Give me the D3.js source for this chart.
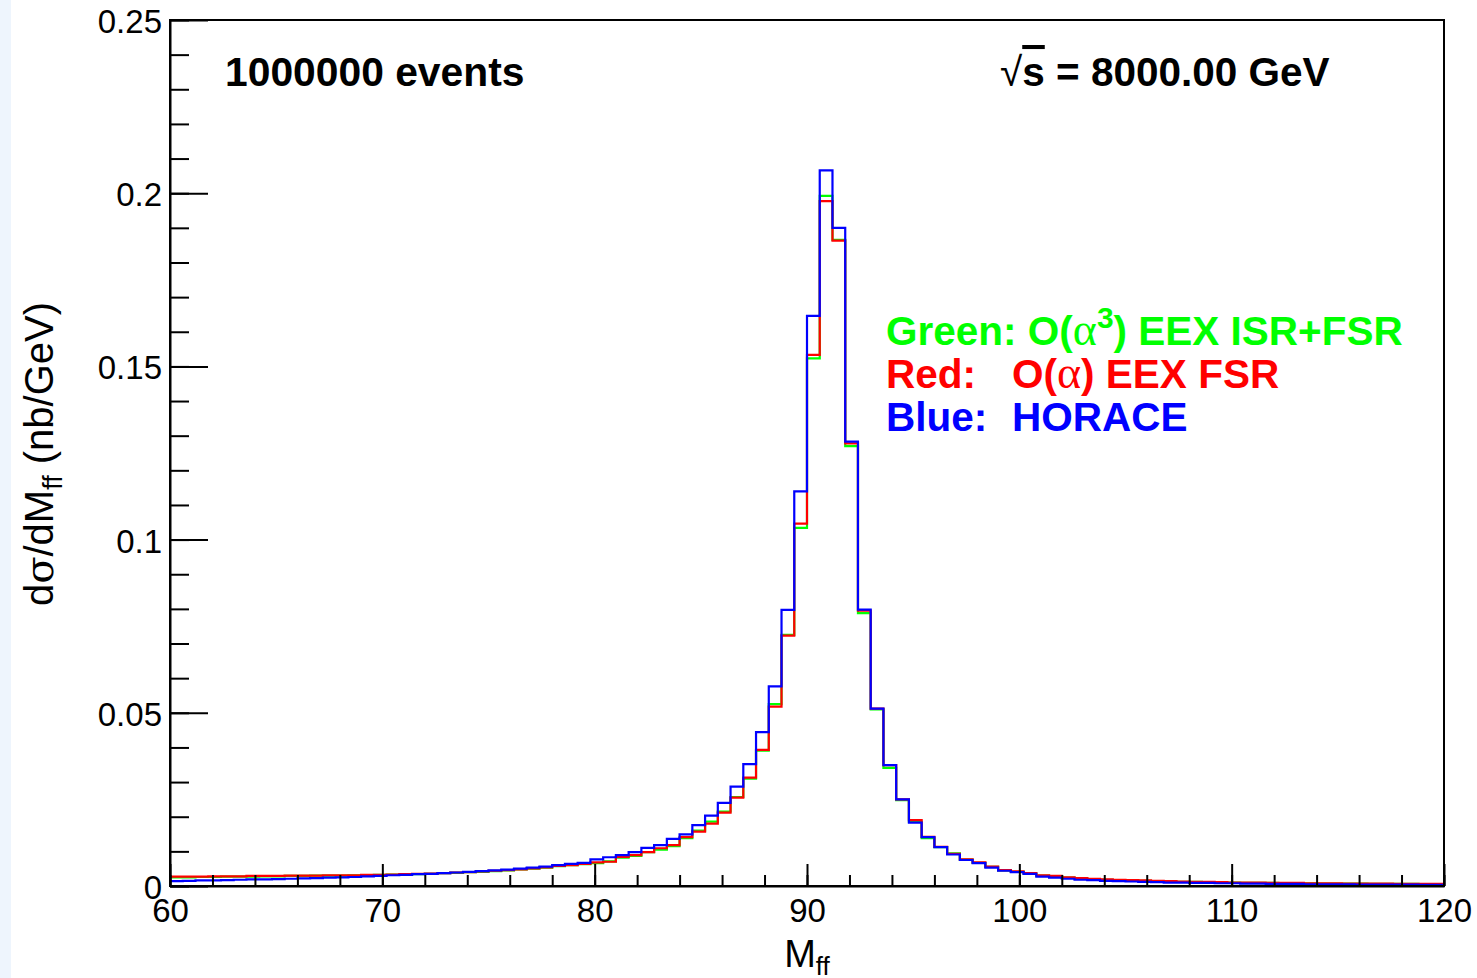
<!DOCTYPE html>
<html>
<head>
<meta charset="utf-8">
<script src="https://cdn.jsdelivr.net/npm/d3@7"></script>
<style>
  html, body { margin: 0; padding: 0; background: #fff; }
  svg { display: block; }
  text { font-family: "Liberation Sans", Arial, Helvetica, sans-serif; }
</style>
</head>
<body>
<svg id="chart" width="1477" height="978"></svg>
<script>
// ---------------- data ----------------
const massMin = 60, massMax = 120, binWidth = 0.6;   // 100 bins of 0.6 GeV
const xTickValues = [60, 70, 80, 90, 100, 110, 120];
const yTickValues = [0, 0.05, 0.1, 0.15, 0.2, 0.25];
const yTickLabels = ["0", "0.05", "0.1", "0.15", "0.2", "0.25"];

const greenValues = [
 .0025,.0025,.0026,.0026,.0027,.0027,.0027,.0028,.0028,.0029,
 .0029,.0030,.0030,.0030,.0031,.0031,.0032,.0033,.0033,.0034,
 .0035,.0037,.0038,.0040,.0041,.0043,.0045,.0048,.0050,.0053,
 .0057,.0060,.0063,.0066,.0071,.0082,.0087,.0098,.0105,.0115,
 .0138,.0160,.0186,.0215,.0257,.0310,.0391,.0525,.0725,.1034,
 .1523,.1992,.1865,.1270,.0788,.0510,.0341,.0248,.0186,.0138,
 .0112,.0094,.0076,.0067,.0055,.0045,.0041,.0036,.0030,.0028,
 .0024,.0022,.0020,.0018,.0017,.0016,.0015,.0014,.0013,.0012,
 .0012,.0011,.0010,.0010,.0009,.0009,.0009,.0008,.0008,.0008,
 .0007,.0007,.0007,.0007,.0006,.0006,.0006,.0006,.0005,.0005];

const redValues = [
 .0027,.0027,.0027,.0028,.0028,.0028,.0029,.0029,.0029,.0030,
 .0030,.0030,.0031,.0031,.0031,.0032,.0032,.0033,.0034,.0035,
 .0036,.0037,.0039,.0040,.0042,.0044,.0046,.0048,.0051,.0054,
 .0058,.0060,.0064,.0068,.0070,.0084,.0089,.0098,.0109,.0118,
 .0141,.0157,.0180,.0212,.0255,.0313,.0393,.0518,.0723,.1046,
 .1533,.1977,.1863,.1278,.0795,.0512,.0349,.0250,.0190,.0142,
 .0113,.0093,.0077,.0068,.0056,.0046,.0042,.0037,.0031,.0029,
 .0025,.0023,.0021,.0019,.0018,.0017,.0016,.0015,.0014,.0013,
 .0012,.0012,.0011,.0010,.0010,.0010,.0009,.0009,.0009,.0008,
 .0008,.0008,.0007,.0007,.0007,.0007,.0006,.0006,.0006,.0006];

const blueValues = [
 .0014,.0015,.0016,.0016,.0017,.0018,.0019,.0019,.0020,.0021,
 .0022,.0023,.0024,.0025,.0026,.0028,.0029,.0031,.0032,.0034,
 .0035,.0037,.0039,.0041,.0043,.0045,.0047,.0050,.0053,.0056,
 .0060,.0064,.0067,.0077,.0083,.0089,.0098,.0110,.0118,.0136,
 .0149,.0176,.0203,.0240,.0287,.0352,.0444,.0576,.0797,.1139,
 .1646,.2066,.1900,.1283,.0798,.0512,.0349,.0250,.0183,.0141,
 .0112,.0091,.0075,.0066,.0053,.0044,.0040,.0035,.0027,.0024,
 .0021,.0018,.0017,.0015,.0014,.0013,.0012,.0011,.0010,.0010,
 .0009,.0009,.0008,.0008,.0007,.0007,.0006,.0006,.0006,.0005,
 .0005,.0005,.0005,.0004,.0004,.0004,.0004,.0004,.0003,.0003];

const seriesColors = ["#00ff00", "#ff0000", "#0000ff"];

// ---------------- drawing ----------------
const svg = d3.select("#chart");
svg.append("rect").attr("x", 0).attr("y", 0).attr("width", 11).attr("height", 978).attr("fill", "#eef5fd");

const pLeft = 170, pRight = 1444, pTop = 20, pBottom = 886;
const x = d3.scaleLinear().domain([massMin, massMax]).range([pLeft, pRight]);
const y = d3.scaleLinear().domain([0, 0.25]).range([pBottom, pTop]);

// histograms (step lines)
const line = d3.line().x(d => x(d[0])).y(d => y(d[1])).curve(d3.curveStepAfter);
[greenValues, redValues, blueValues].forEach((vals, i) => {
  const pts = vals.map((v, k) => [massMin + k * binWidth, v]);
  pts.push([massMin + vals.length * binWidth, vals[vals.length - 1]]);
  svg.append("path")
    .attr("d", line(pts))
    .attr("fill", "none")
    .attr("stroke", seriesColors[i])
    .attr("stroke-width", 2.2);
});

// frame
svg.append("rect").attr("x", pLeft).attr("y", pTop).attr("width", pRight - pLeft).attr("height", pBottom - pTop)
  .attr("fill", "none").attr("stroke", "#000").attr("stroke-width", 2);

// x axis: minor ticks
const xMinor = d3.range(massMin, massMax + 0.001, 2);
svg.append("g").attr("transform", `translate(0,${pBottom})`)
  .call(d3.axisBottom(x).tickValues(xMinor).tickSizeInner(-11).tickSizeOuter(0).tickFormat(""))
  .call(g => g.select(".domain").remove())
  .selectAll("line").attr("stroke", "#000").attr("stroke-width", 2);
// x axis: major ticks + labels
const gx = svg.append("g").attr("transform", `translate(0,${pBottom})`)
  .call(d3.axisBottom(x).tickValues(xTickValues).tickSizeInner(-22).tickSizeOuter(0).tickPadding(13).tickFormat(d3.format("d")));
gx.select(".domain").attr("stroke", "#000").attr("stroke-width", 2);
gx.selectAll("line").attr("stroke", "#000").attr("stroke-width", 2);
gx.selectAll("text").attr("font-size", 33).attr("fill", "#000").style("font-family", "Liberation Sans, Arial, sans-serif");

// y axis: minor ticks
const yMinor = d3.range(0, 0.2501, 0.01);
svg.append("g").attr("transform", `translate(${pLeft},0)`)
  .call(d3.axisLeft(y).tickValues(yMinor).tickSizeInner(-19).tickSizeOuter(0).tickFormat(""))
  .call(g => g.select(".domain").remove())
  .selectAll("line").attr("stroke", "#000").attr("stroke-width", 2);
const gy = svg.append("g").attr("transform", `translate(${pLeft},0)`)
  .call(d3.axisLeft(y).tickValues(yTickValues).tickSizeInner(-38).tickSizeOuter(0).tickPadding(8)
    .tickFormat((d, i) => yTickLabels[i]));
gy.select(".domain").attr("stroke", "#000").attr("stroke-width", 2);
gy.selectAll("line").attr("stroke", "#000").attr("stroke-width", 2);
gy.selectAll("text").attr("font-size", 33).attr("fill", "#000").attr("dy", "0.38em").style("font-family", "Liberation Sans, Arial, sans-serif");

// axis titles
const xt = svg.append("text").attr("x", 807).attr("y", 967).attr("text-anchor", "middle").attr("font-size", 38);
xt.append("tspan").text("M");
xt.append("tspan").attr("font-size", 26).attr("dy", 8).text("ff");

const yt = svg.append("text").attr("transform", "translate(53,454) rotate(-90)").attr("text-anchor", "middle").attr("font-size", 40);
yt.append("tspan").text("d");
yt.append("tspan").style("font-family", "DejaVu Serif, serif").text("σ");
yt.append("tspan").text("/dM");
yt.append("tspan").attr("font-size", 27).attr("dy", 9).text("ff");
yt.append("tspan").attr("dy", -9).text(" (nb/GeV)");

// annotations
svg.append("text").attr("x", 225).attr("y", 86).attr("font-size", 40.8).attr("font-weight", "bold").text("1000000 events");
const rs = svg.append("text").attr("x", 1000).attr("y", 86).attr("font-size", 40.5).attr("font-weight", "bold");
rs.append("tspan").attr("font-weight", "normal").text("√");
rs.append("tspan").attr("text-decoration", "overline").text("s");
rs.append("tspan").text(" = 8000.00 GeV");

// legend text
function addParts(t, parts) {
  let sup = false;
  parts.forEach(([s, kind]) => {
    const ts = t.append("tspan").text(s);
    if (kind === "sym") ts.attr("font-weight", "normal").attr("font-size", 46).style("font-family", "Liberation Serif, serif");
    if (kind === "sup") { ts.attr("font-size", 30).attr("dy", -17); sup = true; }
    else if (sup) { ts.attr("dy", 17); sup = false; }
  });
}
const legendRows = [
  { color: seriesColors[0], y: 345, label: null, parts: [["Green: O(", null], ["α", "sym"], ["3", "sup"], [") EEX ISR+FSR", null]] },
  { color: seriesColors[1], y: 388, label: "Red:", parts: [["O(", null], ["α", "sym"], [") EEX FSR", null]] },
  { color: seriesColors[2], y: 431, label: "Blue:", parts: [["HORACE", null]] }
];
legendRows.forEach(l => {
  if (l.label === null) {
    const t = svg.append("text").attr("x", 886).attr("y", l.y).attr("font-size", 40.5).attr("font-weight", "bold").attr("fill", l.color);
    addParts(t, l.parts);
  } else {
    svg.append("text").attr("x", 886).attr("y", l.y).attr("font-size", 40.5).attr("font-weight", "bold").attr("fill", l.color).text(l.label);
    const t = svg.append("text").attr("x", 1012).attr("y", l.y).attr("font-size", 40.5).attr("font-weight", "bold").attr("fill", l.color);
    addParts(t, l.parts);
  }
});
</script>
</body>
</html>
